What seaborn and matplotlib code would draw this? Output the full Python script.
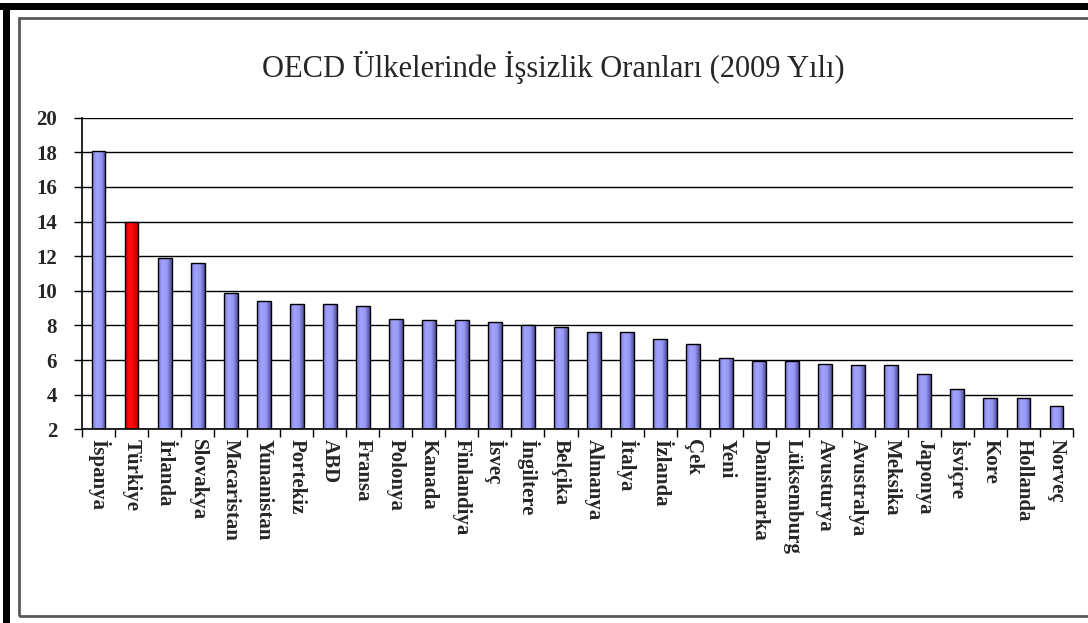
import numpy as np
import matplotlib
matplotlib.use('Agg')
import matplotlib.pyplot as plt
from matplotlib.colors import LinearSegmentedColormap
import seaborn as sns

# OECD ülkeleri ve 2009 işsizlik oranları
ulkeler = ['İspanya', 'Türkiye', 'İrlanda', 'Slovakya', 'Macaristan', 'Yunanistan',
           'Portekiz', 'ABD', 'Fransa', 'Polonya', 'Kanada', 'Finlandiya', 'İsveç',
           'İngiltere', 'Belçika', 'Almanya', 'İtalya', 'İzlanda', 'Çek', 'Yeni',
           'Danimarka', 'Lüksemburg', 'Avusturya', 'Avustralya', 'Meksika', 'Japonya',
           'İsviçre', 'Kore', 'Hollanda', 'Norveç']
oranlar = [18.1, 14.0, 11.9, 11.6, 9.9, 9.4, 9.25, 9.25, 9.15, 8.4, 8.3, 8.3, 8.2,
           8.0, 7.9, 7.6, 7.6, 7.2, 6.9, 6.1, 5.95, 5.95, 5.8, 5.7, 5.7, 5.2, 4.3,
           3.8, 3.8, 3.35]
vurgu = 'Türkiye'
y_ticks = [2, 4, 6, 8, 10, 12, 14, 16, 18, 20]
baslik = 'OECD Ülkelerinde İşsizlik Oranları (2009 Yılı)'

sns.set_style('white')
plt.rcParams['font.family'] = ['Liberation Serif', 'DejaVu Serif']

mavi = '#9999FF'
kirmizi = '#FF0000'
renkler = {u: (kirmizi if u == vurgu else mavi) for u in ulkeler}

fig = plt.figure(figsize=(10.88, 6.23), dpi=100)
ax = fig.add_axes([82 / 1088, 1 - 429.3 / 623, (1073 - 82) / 1088, (429.3 - 117.7) / 623])

sns.barplot(x=ulkeler, y=oranlar, hue=ulkeler, palette=renkler, legend=False,
            width=0.42, edgecolor='black', linewidth=1.0, ax=ax, zorder=3)

ymin = y_ticks[0]
# çubuklara Excel tarzı yatay renk geçişi
cmap_mavi = LinearSegmentedColormap.from_list('m', ['#7C7CD8', '#A4A4FF', '#9696F4', '#50509C'])
cmap_kirmizi = LinearSegmentedColormap.from_list('k', ['#D00000', '#FF1010', '#F00000', '#A00000'])
grad = np.linspace(0, 1, 64).reshape(1, -1)
for bar, u in zip(ax.patches, ulkeler):
    x0, w, h = bar.get_x(), bar.get_width(), bar.get_height()
    cm = cmap_kirmizi if u == vurgu else cmap_mavi
    im = ax.imshow(grad, cmap=cm, extent=[x0, x0 + w, ymin, h], aspect='auto', zorder=2.5)
    im.set_clip_path(bar)
    bar.set_facecolor('none')

ax.set_xlim(-0.5, len(ulkeler) - 0.5)
ax.set_ylim(ymin, 20)
ax.set_yticks(y_ticks)
ax.set_yticklabels([str(t) for t in y_ticks], fontsize=15, fontweight='bold')
ax.yaxis.grid(True, color='black', linewidth=1.0)
ax.set_axisbelow(True)

# kategori sınırlarında tik çizgileri
ax.set_xticks(range(len(ulkeler)))
ax.set_xticklabels(ulkeler, rotation=270, fontsize=15, fontweight='bold', va='top', ha='center')
ax.set_xticks(np.arange(-0.5, len(ulkeler), 1), minor=True)
ax.tick_params(axis='x', which='major', length=0, pad=7)
ax.tick_params(axis='x', which='minor', length=6, width=1, color='black', direction='out', bottom=True)
ax.tick_params(axis='y', length=6, width=1, color='black', direction='out', left=True, pad=12)

for s in ['top', 'right']:
    ax.spines[s].set_visible(False)
for s in ['left', 'bottom']:
    ax.spines[s].set_color('black')
    ax.spines[s].set_linewidth(1.2)

fig.text(553 / 1088, 1 - 67 / 623, baslik, fontsize=22, ha='center', va='center')

# çerçeveler
fig.add_artist(plt.Rectangle((19 / 1088, 1 - 616 / 623), 1.2, (616 - 18) / 623,
                             transform=fig.transFigure, fill=False, edgecolor='#5a5a5a', linewidth=2))
fig.add_artist(plt.Rectangle((0, 1 - 10 / 623), 1, 7 / 623, transform=fig.transFigure,
                             color='black', linewidth=0))
fig.add_artist(plt.Rectangle((3 / 1088, 0), 7 / 1088, 1 - 3 / 623, transform=fig.transFigure,
                             color='black', linewidth=0))

fig.savefig('out.png', dpi=100)
